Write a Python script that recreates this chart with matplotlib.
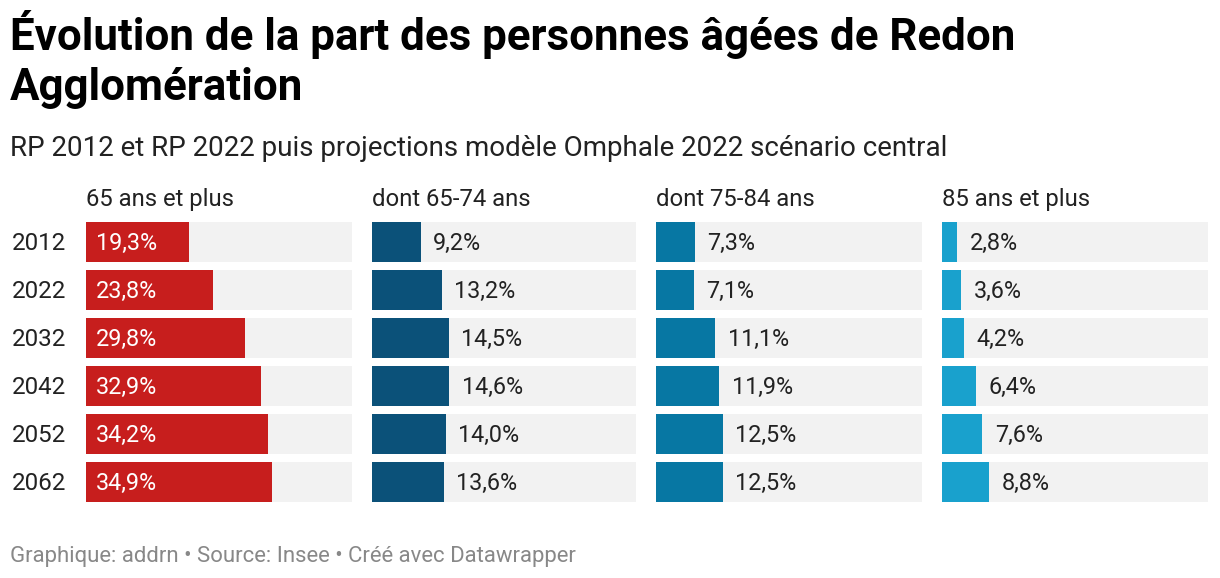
import numpy as np
import matplotlib.pyplot as plt

plt.rcParams['font.family'] = ['Roboto', 'DejaVu Sans']

years = ['2012', '2022', '2032', '2042', '2052', '2062']
headers = ['65 ans et plus', 'dont 65-74 ans', 'dont 75-84 ans', '85 ans et plus']
plus_65 = [19.3, 23.8, 29.8, 32.9, 34.2, 34.9]
age_65_74 = [9.2, 13.2, 14.5, 14.6, 14.0, 13.6]
age_75_84 = [7.3, 7.1, 11.1, 11.9, 12.5, 12.5]
plus_85 = [2.8, 3.6, 4.2, 6.4, 7.6, 8.8]

series = [plus_65, age_65_74, age_75_84, plus_85]
colors = ['#c71e1d', '#0b5179', '#0777a3', '#19a1cd']
inside = [True, False, False, False]

W, H = 1220, 578
fig = plt.figure(figsize=(W / 100, H / 100), dpi=100)

def fx(px):
    return px / W

def fy(px):
    return 1 - px / H

# titres
fig.text(fx(10), fy(50), 'Évolution de la part des personnes âgées de Redon',
         fontsize=31.6, fontweight='bold', color='#000000', va='baseline')
fig.text(fx(10), fy(100), 'Agglomération',
         fontsize=31.6, fontweight='bold', color='#000000', va='baseline')
fig.text(fx(10), fy(156), 'RP 2012 et RP 2022 puis projections modèle Omphale 2022 scénario central',
         fontsize=20, color='#222222', va='baseline')

# colonnes
panels = [(86, 352), (372, 636), (656, 922), (942, 1208)]
top, bottom = 222, 502
xmax = 50
n = len(years)
pos = np.arange(n)
bar_h = 40 / 48

for k, (x0, x1) in enumerate(panels):
    ax = fig.add_axes([fx(x0), fy(bottom), fx(x1 - x0), (bottom - top) / H])
    vals = series[k]
    ax.barh(pos, [xmax] * n, height=bar_h, color='#f2f2f2', linewidth=0)
    ax.barh(pos, vals, height=bar_h, color=colors[k], linewidth=0)
    for i, v in enumerate(vals):
        lab = f'{v:.1f}%'.replace('.', ',')
        if inside[k]:
            ax.annotate(lab, (0, i), xytext=(7, -1.3), textcoords='offset points',
                        va='center', ha='left', fontsize=16.8, color='white')
        else:
            ax.annotate(lab, (v, i), xytext=(9, -1.3), textcoords='offset points',
                        va='center', ha='left', fontsize=16.8, color='#222222')
    ax.set_xlim(0, xmax)
    ax.set_ylim(n - 1 + bar_h / 2, -bar_h / 2)
    ax.axis('off')
    fig.text(fx(x0), fy(206), headers[k], fontsize=17.2, color='#222222', va='baseline')

for i, y in enumerate(years):
    fig.text(fx(12), fy(top + 22 + 48 * i), y, fontsize=17.4, color='#222222', va='center')

fig.text(fx(10), fy(562), 'Graphique: addrn • Source: Insee • Créé avec Datawrapper',
         fontsize=15.9, color='#888888', va='baseline')

fig.savefig('out.png', dpi=100, facecolor='white')
